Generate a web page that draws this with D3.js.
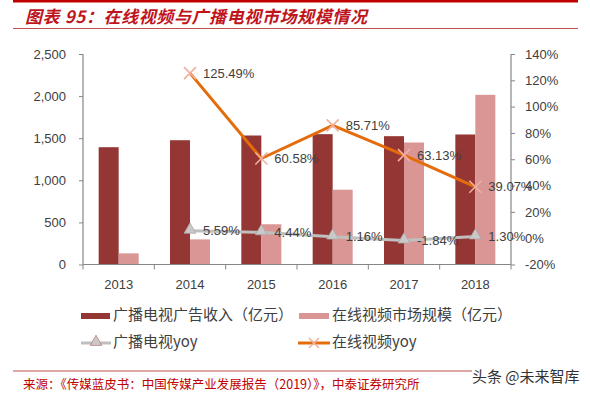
<!DOCTYPE html>
<html>
<head>
<meta charset="utf-8">
<script src="https://cdn.jsdelivr.net/npm/d3@7"></script>
<style>
  body { margin: 0; background: #fff; }
  svg { display: block; font-family: "Liberation Sans", Arial, sans-serif; }
  .cjk { font-family: "Noto Sans CJK SC", sans-serif; }
</style>
</head>
<body>
<svg id="chart"></svg>
<script>
// data
const years = ["2013", "2014", "2015", "2016", "2017", "2018"];
const tvAdRevenue = [1393, 1476, 1532, 1548, 1524, 1544];   // 广播电视广告收入（亿元）
const onlineVideo = [132, 298, 478, 888, 1449, 2015];      // 在线视频市场规模（亿元）
const tvYoy = [null, 5.59, 4.44, 1.16, -1.84, 1.30];         // 广播电视yoy (%)
const onlineYoy = [null, 125.49, 60.58, 85.71, 63.13, 39.07]; // 在线视频yoy (%)
const leftTicks = [0, 500, 1000, 1500, 2000, 2500];
const rightTicks = [-20, 0, 20, 40, 60, 80, 100, 120, 140];

const w = 590, h = 395;
const plotLeft = 83, plotRight = 511, plotTop = 54, plotBottom = 264.5;
const darkRed = "#943634", lightRed = "#d99694", orange = "#e46c0a", grey = "#bfbfbf";
const axisColor = "#868686", textColor = "#404040";

const svg = d3.select("#chart").attr("width", w).attr("height", h);

// title + red rules
svg.append("rect").attr("x", 13).attr("y", 0).attr("width", 565).attr("height", 2.5).attr("fill", "#c00000");
svg.append("text").attr("class", "cjk")
   .attr("x", 25).attr("y", 23)
   .attr("font-size", 17).attr("font-weight", "bold").attr("font-style", "italic")
   .attr("letter-spacing", 0.6)
   .attr("fill", "#c0141c")
   .text("图表 95：在线视频与广播电视市场规模情况");
svg.append("line").attr("x1", 13).attr("x2", 578).attr("y1", 28.5).attr("y2", 28.5)
   .attr("stroke", "#c0504d").attr("stroke-width", 1.2);

// scales
const x = d3.scaleBand().domain(years).range([plotLeft, plotRight]);
const xInner = d3.scaleBand().domain(["tv", "online"]).range([0, 40]);
const barOffset = (x.bandwidth() - 40) / 2;
const yLeft = d3.scaleLinear().domain([0, 2500]).range([plotBottom, plotTop]);
const yRight = d3.scaleLinear().domain([-20, 140]).range([plotBottom, plotTop]);

// bars
const bars = svg.append("g");
bars.selectAll(".tv").data(years).enter().append("rect")
    .attr("x", (d) => x(d) + barOffset + xInner("tv"))
    .attr("y", (d, i) => yLeft(tvAdRevenue[i]))
    .attr("width", xInner.bandwidth())
    .attr("height", (d, i) => yLeft(0) - yLeft(tvAdRevenue[i]))
    .attr("fill", darkRed);
bars.selectAll(".online").data(years).enter().append("rect")
    .attr("x", (d) => x(d) + barOffset + xInner("online"))
    .attr("y", (d, i) => yLeft(onlineVideo[i]))
    .attr("width", xInner.bandwidth())
    .attr("height", (d, i) => yLeft(0) - yLeft(onlineVideo[i]))
    .attr("fill", lightRed);

// axes
const leftAxis = svg.append("g")
   .attr("transform", `translate(${plotLeft},0)`)
   .call(d3.axisLeft(yLeft).tickValues(leftTicks).tickFormat(d3.format(",")).tickSize(4).tickPadding(13));
const rightAxis = svg.append("g")
   .attr("transform", `translate(${plotRight},0)`)
   .call(d3.axisRight(yRight).tickValues(rightTicks).tickFormat((d) => d + "%").tickSize(4).tickPadding(10));
const bottomAxis = svg.append("g")
   .attr("transform", `translate(0,${plotBottom})`)
   .call(d3.axisBottom(x).tickSize(0).tickPadding(15));
bottomAxis.selectAll(".tick")
   .append("line").attr("x1", -x.bandwidth() / 2).attr("x2", -x.bandwidth() / 2)
   .attr("y1", 0).attr("y2", 5).attr("stroke", axisColor);
bottomAxis.append("line").attr("x1", plotRight).attr("x2", plotRight).attr("y1", 0).attr("y2", 5).attr("stroke", axisColor);

[leftAxis, rightAxis, bottomAxis].forEach((g) => {
  g.select(".domain").attr("stroke", axisColor).attr("stroke-width", 1.2);
  g.selectAll(".tick line").attr("stroke", axisColor);
  g.selectAll(".tick text").attr("fill", textColor).attr("font-size", 13);
});
leftAxis.select(".domain").attr("d", `M0,${plotTop}V${plotBottom}`);
rightAxis.select(".domain").attr("d", `M0,${plotTop}V${plotBottom}`);
bottomAxis.select(".domain").attr("d", `M${plotLeft},0H${plotRight}`);

// lines
const cx = (d) => x(d) + x.bandwidth() / 2;
const tvPoints = years.map((d, i) => ({ year: d, v: tvYoy[i] })).filter((p) => p.v !== null);
const onlinePoints = years.map((d, i) => ({ year: d, v: onlineYoy[i] })).filter((p) => p.v !== null);
const line = d3.line().x((p) => cx(p.year)).y((p) => yRight(p.v));

svg.append("path").datum(tvPoints).attr("d", line)
   .attr("fill", "none").attr("stroke", grey).attr("stroke-width", 3);
svg.append("path").datum(onlinePoints).attr("d", line)
   .attr("fill", "none").attr("stroke", orange).attr("stroke-width", 3);

const tri = d3.symbol().type(d3.symbolTriangle).size(60);
svg.selectAll(".tri").data(tvPoints).enter().append("path")
   .attr("transform", (p) => `translate(${cx(p.year)},${yRight(p.v) - 1})`)
   .attr("d", tri).attr("fill", "#c9c9c9").attr("stroke", "#b0a8a8").attr("stroke-width", 0.8);
svg.selectAll(".cross").data(onlinePoints).enter().append("path")
   .attr("transform", (p) => `translate(${cx(p.year)},${yRight(p.v)})`)
   .attr("d", "M-6,-6L6,6M-6,6L6,-6")
   .attr("stroke", "#f0b0a0").attr("stroke-width", 1.6);

// data labels
const fmt = (v) => v.toFixed(2) + "%";
svg.selectAll(".tvlab").data(tvPoints).enter().append("text")
   .attr("x", (p) => cx(p.year) + 13).attr("y", (p) => yRight(p.v) + 1)
   .attr("dominant-baseline", "middle").attr("font-size", 13).attr("fill", textColor)
   .text((p) => fmt(p.v));
svg.selectAll(".onlab").data(onlinePoints).enter().append("text")
   .attr("x", (p) => cx(p.year) + 13).attr("y", (p) => yRight(p.v) + 1)
   .attr("dominant-baseline", "middle").attr("font-size", 13).attr("fill", textColor)
   .text((p) => fmt(p.v));

// legend
const legend = svg.append("g").attr("class", "cjk").attr("font-size", 15).attr("fill", textColor);
legend.append("rect").attr("x", 81).attr("y", 313).attr("width", 29).attr("height", 6).attr("fill", darkRed);
legend.append("text").attr("x", 113).attr("y", 316).attr("dominant-baseline", "middle").text("广播电视广告收入（亿元）");
legend.append("rect").attr("x", 299).attr("y", 313).attr("width", 30).attr("height", 6).attr("fill", lightRed);
legend.append("text").attr("x", 332).attr("y", 316).attr("dominant-baseline", "middle").text("在线视频市场规模（亿元）");

legend.append("line").attr("x1", 81).attr("x2", 111).attr("y1", 343).attr("y2", 343).attr("stroke", grey).attr("stroke-width", 3);
legend.append("path").attr("transform", "translate(96,342)").attr("d", tri)
      .attr("fill", "#c9c9c9").attr("stroke", "#c08080").attr("stroke-width", 0.8);
legend.append("text").attr("x", 113).attr("y", 343).attr("dominant-baseline", "middle").text("广播电视yoy");
legend.append("line").attr("x1", 298).attr("x2", 330).attr("y1", 343).attr("y2", 343).attr("stroke", orange).attr("stroke-width", 3);
legend.append("path").attr("transform", "translate(314,343)").attr("d", "M-5,-5L5,5M-5,5L5,-5")
      .attr("stroke", "#f0b0a0").attr("stroke-width", 1.6);
legend.append("text").attr("x", 332).attr("y", 343).attr("dominant-baseline", "middle").text("在线视频yoy");

// footer
svg.append("line").attr("x1", 13).attr("x2", 472).attr("y1", 371).attr("y2", 371)
   .attr("stroke", "#c0504d").attr("stroke-width", 1);
svg.append("text").attr("class", "cjk").attr("x", 23).attr("y", 386)
   .attr("dominant-baseline", "middle").attr("font-size", 12.5).attr("fill", "#c00000")
   .text("来源：《传媒蓝皮书：中国传媒产业发展报告（2019）》，中泰证券研究所");
svg.append("text").attr("class", "cjk").attr("x", 472).attr("y", 378)
   .attr("dominant-baseline", "middle").attr("font-size", 15).attr("fill", "#333")
   .text("头条 @未来智库");
</script>
</body>
</html>
